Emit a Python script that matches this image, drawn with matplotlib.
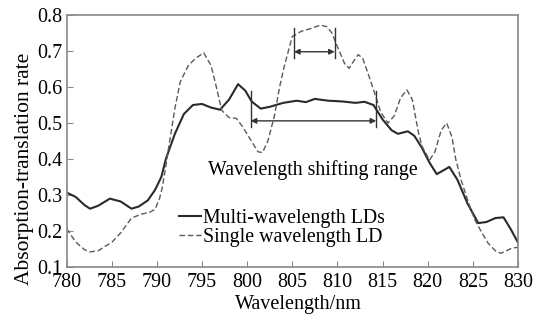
import matplotlib
matplotlib.use('Agg')
import matplotlib.pyplot as plt

# wavelength (nm) / absorption-translation rate
multi_wl = [780, 781, 782, 782.6, 783.5, 784.8, 786, 787.2, 788, 789, 789.8,
            790.5, 791, 792, 793, 794, 795, 796, 797, 798, 799, 799.8,
            800.5, 801.5, 802.5, 804, 805.5, 806.5, 807.5, 809, 810.5, 812,
            813, 814, 815, 816, 816.7, 817.8, 818.5, 819.3, 820.2, 821,
            821.7, 822.4, 823.3, 824.4, 825.6, 826.5, 827.5, 828.4, 829.2, 830]
multi_val = [0.307, 0.295, 0.272, 0.262, 0.27, 0.29, 0.282, 0.262, 0.268, 0.285, 0.314,
             0.35, 0.40, 0.47, 0.525, 0.55, 0.553, 0.543, 0.537, 0.565, 0.608, 0.59,
             0.56, 0.54, 0.545, 0.556, 0.562, 0.558, 0.567, 0.562, 0.56, 0.556,
             0.559, 0.55, 0.51, 0.48, 0.47, 0.477, 0.465, 0.434, 0.39, 0.358,
             0.368, 0.378, 0.342, 0.277, 0.222, 0.225, 0.236, 0.238, 0.205, 0.168]

single_wl = [780, 781, 782, 782.6, 783.5, 784.3, 785, 786, 787.2, 788.3, 789.2,
             789.8, 790.3, 790.6, 791, 791.3, 792, 792.6, 793.5, 794.3, 795.2,
             796, 796.5, 797.2, 798, 798.8, 799.5, 800.4, 801.2, 801.7, 802.3,
             803, 803.6, 804.1, 805, 806, 807, 808.1, 808.8, 809.4, 810, 810.8,
             811.3, 811.8, 812.3, 812.8, 813.5, 814.1, 814.8, 815.6, 816.3, 817,
             817.7, 818.3, 819, 819.4, 820.2, 820.8, 821.5, 822.1, 822.7, 823.1,
             823.7, 824.5, 825.2, 826, 826.7, 827.5, 828.1, 828.7, 829.3, 830]
single_val = [0.207, 0.17, 0.148, 0.142, 0.145, 0.158, 0.168, 0.195, 0.236, 0.247, 0.252,
              0.26, 0.29, 0.32, 0.38, 0.43, 0.54, 0.615, 0.66, 0.68, 0.695,
              0.66, 0.61, 0.535, 0.515, 0.513, 0.49, 0.453, 0.42, 0.418, 0.45,
              0.517, 0.6, 0.656, 0.74, 0.755, 0.762, 0.772, 0.768, 0.75, 0.712, 0.665,
              0.652, 0.672, 0.69, 0.68, 0.63, 0.585, 0.53, 0.5, 0.52, 0.57,
              0.592, 0.565, 0.47, 0.434, 0.397, 0.42, 0.48, 0.5, 0.46, 0.4,
              0.342, 0.28, 0.232, 0.195, 0.166, 0.145, 0.138, 0.145, 0.152, 0.155]

# shifting ranges: (start, end, bar bottom, bar top, arrow height)
range_single = (805.2, 809.7, 0.68, 0.763, 0.698)
range_multi = (800.4, 814.3, 0.49, 0.589, 0.506)

plt.rcParams['font.family'] = ['Liberation Serif', 'DejaVu Serif']
plt.rcParams['font.size'] = 14
plt.rcParams['lines.solid_joinstyle'] = 'round'
plt.rcParams['lines.dash_joinstyle'] = 'round'

fig = plt.figure(figsize=(5.42, 3.2), dpi=100)
ax = fig.add_axes([0.1227, 0.1656, 0.833, 0.7874])

ax.plot(multi_wl, multi_val, color='#2a2a2a', lw=1.5, label='Multi-wavelength LDs')
ax.plot(single_wl, single_val, color='#5a5a5a', lw=1.0, ls=(0, (4, 2)),
        label='Single wavelength LD')

# bars + double arrows
for r in (range_single, range_multi):
    x0, x1, yb, yt, ya = r
    ax.plot([x0, x0], [yb, yt], color='#333333', lw=1.0)
    ax.plot([x1, x1], [yb, yt], color='#333333', lw=1.0)
    ax.annotate('', xy=(x1, ya), xytext=(x0, ya),
                arrowprops=dict(arrowstyle='<|-|>', color='#333333', lw=1.0,
                                mutation_scale=8, shrinkA=0, shrinkB=0))

ax.text(807.3, 0.37, 'Wavelength shifting range', ha='center', va='center',
        fontsize=14.3)

ax.legend(loc='upper left', bbox_to_anchor=(0.25, 0.232), frameon=False,
          handlelength=1.1, handletextpad=0.1, labelspacing=0.0, borderpad=0,
          borderaxespad=0, fontsize=14.3)

ax.set_xlim(780, 830)
ax.set_ylim(0.1, 0.8)
ax.set_xticks(range(780, 831, 5))
ax.set_yticks([0.1, 0.2, 0.3, 0.4, 0.5, 0.6, 0.7, 0.8])
ax.set_xlabel('Wavelength/nm', fontsize=14.5, va='top')
ax.set_ylabel('Absorption-translation rate', fontsize=15.5, va='center')
ax.xaxis.set_label_coords(0.513, -0.112)
ax.yaxis.set_label_coords(-0.092, 0.39)
ax.tick_params(direction='in', length=4, color='#888888', labelsize=14.5)
ax.tick_params(axis='x', pad=4)
ax.tick_params(axis='y', pad=3)
for s in ax.spines.values():
    s.set_color('#888888')
    s.set_linewidth(1.2)

fig.savefig('out.png', dpi=100)
